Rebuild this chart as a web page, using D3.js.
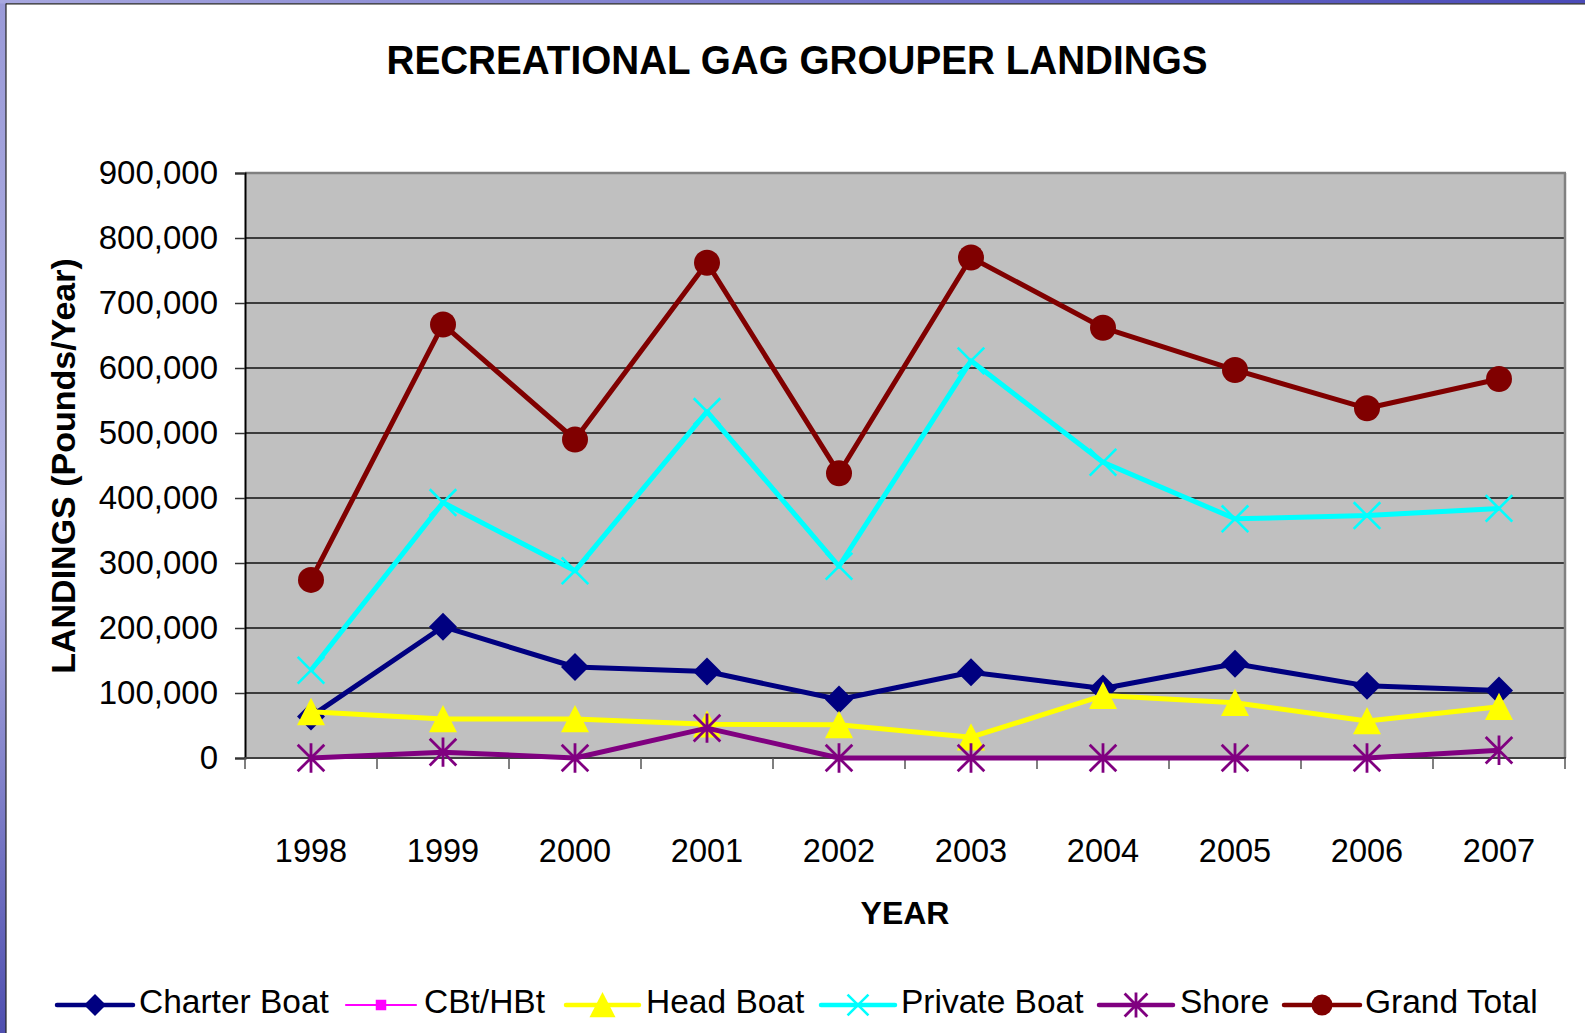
<!DOCTYPE html>
<html>
<head>
<meta charset="utf-8">
<script src="https://cdn.jsdelivr.net/npm/d3@7"></script>
<style>
  body { margin: 0; background: #fff; }
  svg { display: block; }
  text { font-family: "Liberation Sans", Arial, sans-serif; fill: #000; }
</style>
</head>
<body>
<svg id="chart" width="1585" height="1033"></svg>
<script>
const years = ["1998","1999","2000","2001","2002","2003","2004","2005","2006","2007"];
const charterBoat = [64000, 202000, 140000, 133000, 90000, 132000, 107000, 145000, 111000, 104000];
const cbtHbt = [null, null, null, null, null, null, null, null, null, null];
const headBoat = [71000, 60000, 60000, 52000, 51000, 32000, 96000, 85000, 57000, 79000];
const privateBoat = [135000, 393000, 288000, 533000, 295000, 611000, 455000, 368000, 373000, 384000];
const shore = [0, 9000, 0, 46000, 0, 0, 0, 0, 0, 12000];
const grandTotal = [274000, 667000, 490000, 762000, 438000, 770000, 662000, 597000, 538000, 583000];
const yTicks = [0, 100000, 200000, 300000, 400000, 500000, 600000, 700000, 800000, 900000];
const seriesNames = ["Charter Boat", "CBt/HBt", "Head Boat", "Private Boat", "Shore", "Grand Total"];

const series = [
  {name: seriesNames[0], values: charterBoat, color: "#000080", marker: "diamond", width: 5},
  {name: seriesNames[1], values: cbtHbt, color: "#FF00FF", marker: "square", width: 2.5},
  {name: seriesNames[2], values: headBoat, color: "#FFFF00", marker: "triangle", width: 5},
  {name: seriesNames[3], values: privateBoat, color: "#00FFFF", marker: "x", width: 5},
  {name: seriesNames[4], values: shore, color: "#800080", marker: "asterisk", width: 5},
  {name: seriesNames[5], values: grandTotal, color: "#800000", marker: "circle", width: 5}
];

const svg = d3.select("#chart");

// slide frame
const defs = svg.append("defs");
const gl = defs.append("linearGradient").attr("id","leftG").attr("x1",0).attr("x2",0).attr("y1",0).attr("y2",1);
gl.append("stop").attr("offset","0%").attr("stop-color","#9a9ad8");
gl.append("stop").attr("offset","50%").attr("stop-color","#b4b4e4");
gl.append("stop").attr("offset","100%").attr("stop-color","#5050b0");
const gt = defs.append("linearGradient").attr("id","topG").attr("x1",0).attr("x2",1).attr("y1",0).attr("y2",0);
gt.append("stop").attr("offset","0%").attr("stop-color","#a8a8e0");
gt.append("stop").attr("offset","100%").attr("stop-color","#4a4ab8");
svg.append("rect").attr("x",0).attr("y",0).attr("width",6).attr("height",1033).attr("fill","url(#leftG)");
svg.append("rect").attr("x",0).attr("y",0).attr("width",1585).attr("height",3.5).attr("fill","url(#topG)");
svg.append("line").attr("x1",6).attr("x2",6).attr("y1",3.5).attr("y2",1033).attr("stroke","#222").attr("stroke-width",1.2);
svg.append("line").attr("x1",6).attr("x2",1585).attr("y1",3.8).attr("y2",3.8).attr("stroke","#222").attr("stroke-width",1.2);

const L = 245, R = 1565, T = 173, B = 758;
const x = d3.scaleBand().domain(years).range([L, R]).padding(0);
const y = d3.scaleLinear().domain([0, 900000]).range([B, T]);
const cx = d => x(d) + x.bandwidth() / 2;

// plot area
svg.append("rect").attr("x", L).attr("y", T).attr("width", R - L).attr("height", B - T).attr("fill", "#C0C0C0");

// gridlines
svg.append("g").selectAll("line").data(yTicks.filter(v => v > 0 && v < 900000)).join("line")
  .attr("x1", L).attr("x2", R).attr("y1", d => y(d)).attr("y2", d => y(d))
  .attr("stroke", "#111").attr("stroke-width", 1.3);

// plot border top/right
svg.append("line").attr("x1", L).attr("x2", R + 1).attr("y1", T).attr("y2", T).attr("stroke", "#808080").attr("stroke-width", 2.5);
svg.append("line").attr("x1", R).attr("x2", R).attr("y1", T).attr("y2", B).attr("stroke", "#808080").attr("stroke-width", 2.5);

// y axis
const yAxis = d3.axisLeft(y).tickValues(yTicks).tickFormat(d3.format(",")).tickSize(10).tickPadding(17);
const yg = svg.append("g").attr("transform", `translate(${L},0)`).call(yAxis);
yg.select(".domain").attr("stroke", "#000").attr("stroke-width", 2);
yg.selectAll(".tick line").attr("stroke", "#333").attr("stroke-width", 1.5);
yg.selectAll(".tick text").attr("font-size", 33).attr("font-family", "'Liberation Sans', Arial, sans-serif").attr("fill", "#000");

// x axis
svg.append("line").attr("x1", L).attr("x2", R + 1).attr("y1", B).attr("y2", B).attr("stroke", "#404040").attr("stroke-width", 2);
const bounds = years.map(d => x(d)).concat([R]);
svg.append("g").selectAll("line").data(bounds).join("line")
  .attr("x1", d => d).attr("x2", d => d).attr("y1", B).attr("y2", B + 11)
  .attr("stroke", "#555").attr("stroke-width", 1.5);
svg.append("g").selectAll("text").data(years).join("text")
  .attr("x", d => cx(d)).attr("y", 862).attr("text-anchor", "middle").attr("font-size", 32.5).text(d => d);

// titles
svg.append("text").attr("x", 797).attr("y", 74).attr("text-anchor", "middle")
  .attr("font-size", 40).attr("font-weight", "bold")
  .attr("textLength", 821).attr("lengthAdjust", "spacingAndGlyphs")
  .text("RECREATIONAL GAG GROUPER LANDINGS");
svg.append("text").attr("transform", "translate(75,466) rotate(-90)").attr("text-anchor", "middle")
  .attr("font-size", 34).attr("font-weight", "bold").text("LANDINGS (Pounds/Year)");
svg.append("text").attr("x", 905).attr("y", 924).attr("text-anchor", "middle")
  .attr("font-size", 32).attr("font-weight", "bold").text("YEAR");

// markers
function drawMarker(g, type, px, py, s, color) {
  const h = s / 2;
  if (type === "diamond") {
    g.append("path").attr("d", `M${px},${py-h}L${px+h},${py}L${px},${py+h}L${px-h},${py}Z`).attr("fill", color);
  } else if (type === "square") {
    g.append("rect").attr("x", px - h*0.75).attr("y", py - h*0.75).attr("width", s*0.75).attr("height", s*0.75).attr("fill", color);
  } else if (type === "triangle") {
    g.append("path").attr("d", `M${px},${py-h}L${px+h},${py+h*0.95}L${px-h},${py+h*0.95}Z`).attr("fill", color);
  } else if (type === "x") {
    const k = h * 0.95;
    g.append("path").attr("d", `M${px-k},${py-k}L${px+k},${py+k}M${px-k},${py+k}L${px+k},${py-k}`)
      .attr("stroke", color).attr("stroke-width", 2.6).attr("fill", "none");
  } else if (type === "asterisk") {
    const k = h * 0.95;
    g.append("path").attr("d", `M${px-k},${py-k}L${px+k},${py+k}M${px-k},${py+k}L${px+k},${py-k}M${px},${py-h*1.05}L${px},${py+h*1.05}`)
      .attr("stroke", color).attr("stroke-width", 2.8).attr("fill", "none");
  } else if (type === "circle") {
    g.append("circle").attr("cx", px).attr("cy", py).attr("r", h).attr("fill", color);
  }
}

const markerSize = {diamond: 28, square: 14, triangle: 28, x: 28, asterisk: 28, circle: 26};

series.forEach(s => {
  const g = svg.append("g");
  const pts = years.map((yr, i) => ({yr, v: s.values[i]}));
  const line = d3.line().defined(d => d.v != null).x(d => cx(d.yr)).y(d => y(d.v));
  g.append("path").datum(pts).attr("d", line).attr("fill", "none")
    .attr("stroke", s.color).attr("stroke-width", s.width).attr("stroke-linejoin", "round");
  pts.filter(d => d.v != null).forEach(d => drawMarker(g, s.marker, cx(d.yr), y(d.v), markerSize[s.marker], s.color));
});

// legend
const legendPos = [
  {x0: 57, x1: 133, tx: 139},
  {x0: 346, x1: 416, tx: 424},
  {x0: 566, x1: 639, tx: 646},
  {x0: 821, x1: 895, tx: 901},
  {x0: 1099, x1: 1173, tx: 1180},
  {x0: 1284, x1: 1360, tx: 1365}
];
const legendMarker = {diamond: 22, square: 14, triangle: 26, x: 22, asterisk: 24, circle: 21};
series.forEach((s, i) => {
  const p = legendPos[i];
  const g = svg.append("g");
  const ly = 1005;
  g.append("line").attr("x1", p.x0).attr("x2", p.x1).attr("y1", ly).attr("y2", ly)
    .attr("stroke", s.color).attr("stroke-width", s.width === 5 ? 4.5 : 2.2).attr("stroke-linecap", "round");
  drawMarker(g, s.marker, (p.x0 + p.x1) / 2, ly, legendMarker[s.marker], s.color);
  g.append("text").attr("x", p.tx).attr("y", 1013).attr("font-size", 33.5).text(s.name);
});
</script>
</body>
</html>
